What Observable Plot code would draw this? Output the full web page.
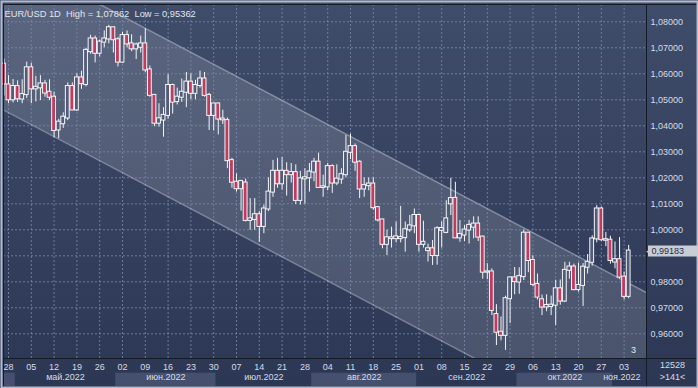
<!DOCTYPE html>
<html><head><meta charset="utf-8">
<script src="https://cdn.jsdelivr.net/npm/d3@7"></script>
<script src="https://cdn.jsdelivr.net/npm/@observablehq/plot@0.6"></script>
<style>body{margin:0;background:#2f3a57;}</style>
</head><body><div id="chart"></div>
<script>
// Trading days (2022, MM-DD)
const dates = ["04-27","04-28","04-29",
"05-02","05-03","05-04","05-05","05-06","05-09","05-10","05-11","05-12","05-13",
"05-16","05-17","05-18","05-19","05-20","05-23","05-24","05-25","05-26","05-27","05-30","05-31",
"06-01","06-02","06-03","06-06","06-07","06-08","06-09","06-10","06-13","06-14","06-15","06-16","06-17",
"06-20","06-21","06-22","06-23","06-24","06-27","06-28","06-29","06-30",
"07-01","07-04","07-05","07-06","07-07","07-08","07-11","07-12","07-13","07-14","07-15",
"07-18","07-19","07-20","07-21","07-22","07-25","07-26","07-27","07-28","07-29",
"08-01","08-02","08-03","08-04","08-05","08-08","08-09","08-10","08-11","08-12",
"08-15","08-16","08-17","08-18","08-19","08-22","08-23","08-24","08-25","08-26","08-29","08-30","08-31",
"09-01","09-02","09-05","09-06","09-07","09-08","09-09","09-12","09-13","09-14","09-15","09-16",
"09-19","09-20","09-21","09-22","09-23","09-26","09-27","09-28","09-29","09-30",
"10-03","10-04","10-05","10-06","10-07","10-10","10-11","10-12","10-13","10-14",
"10-17","10-18","10-19","10-20","10-21","10-24","10-25","10-26","10-27","10-28","10-31",
"11-01","11-02","11-03","11-04"];

const open = [1.0637,1.0557,1.0500,
1.0551,1.0503,1.0520,1.0623,1.0542,1.0546,1.0561,1.0529,1.0510,1.0384,
1.0408,1.0430,1.0551,1.0461,1.0584,1.0559,1.0685,1.0734,1.0679,1.0722,1.0734,1.0777,
1.0731,1.0645,1.0747,1.0715,1.0696,1.0702,1.0715,1.0615,1.0517,1.0410,1.0422,1.0440,1.0555,
1.0493,1.0510,1.0529,1.0568,1.0525,1.0555,1.0580,1.0517,1.0440,
1.0484,1.0426,1.0420,1.0266,1.0183,1.0158,1.0180,1.0036,1.0040,1.0058,1.0013,
1.0080,1.0145,1.0225,1.0177,1.0225,1.0212,1.0220,1.0113,1.0196,1.0200,
1.0222,1.0260,1.0163,1.0165,1.0243,1.0180,1.0195,1.0212,1.0298,1.0320,
1.0260,1.0157,1.0170,1.0176,1.0085,1.0038,0.9944,0.9969,0.9966,0.9966,0.9970,1.0000,1.0015,
1.0055,0.9944,0.9920,0.9927,0.9901,0.9998,0.9990,1.0100,1.0121,0.9969,0.9980,0.9999,
1.0010,1.0022,0.9972,0.9837,0.9838,0.9674,0.9606,0.9594,0.9735,0.9815,
0.9799,0.9820,0.9987,0.9882,0.9790,0.9731,0.9703,0.9705,0.9710,0.9773,
0.9726,0.9844,0.9857,0.9770,0.9786,0.9856,0.9875,0.9965,1.0080,0.9962,0.9960,
0.9876,0.9885,0.9818,0.9744];

const high = [1.0657,1.0593,1.0578,
1.0573,1.0577,1.0645,1.0641,1.0590,1.0593,1.0575,1.0577,1.0530,1.0425,
1.0450,1.0565,1.0565,1.0600,1.0610,1.0698,1.0748,1.0745,1.0730,1.0765,1.07862,1.0780,
1.0740,1.0760,1.0765,1.0750,1.0718,1.0745,1.0773,1.0630,1.0520,1.0485,1.0470,1.0597,1.0560,
1.0545,1.0580,1.0605,1.0600,1.0575,1.0610,1.0605,1.0525,1.0487,
1.0488,1.0460,1.0430,1.0275,1.0215,1.0190,1.0195,1.0120,1.0120,1.0070,1.0095,
1.0200,1.0267,1.0275,1.0278,1.0258,1.0255,1.0250,1.0225,1.0235,1.0255,
1.0275,1.0295,1.0210,1.0255,1.0250,1.0250,1.0235,1.0363,1.0368,1.0330,
1.0265,1.0200,1.0200,1.0200,1.0090,1.0040,0.9999,1.0010,1.0030,1.0090,1.0030,1.0055,1.0080,
1.0060,1.0033,0.9945,0.9959,1.0012,1.0030,1.0112,1.0198,1.0183,1.0036,1.0016,1.0036,
1.0050,1.0050,0.9975,0.9870,0.9850,0.9712,0.9665,0.9745,0.9818,0.9855,
0.9854,0.9999,0.9990,0.9900,0.9830,0.9749,0.9750,0.9745,0.9806,0.9807,
0.9875,0.9875,0.9868,0.9872,0.9870,0.9905,0.9977,1.0093,1.0088,0.9990,0.9975,
0.9953,0.9970,0.9838,0.9940];

const low = [1.0515,1.0485,1.0488,
1.0490,1.0485,1.0505,1.0485,1.0492,1.0497,1.0510,1.0497,1.0354,1.0350,
1.0390,1.0420,1.0460,1.0455,1.0540,1.0550,1.0675,1.0642,1.0665,1.0700,1.0715,1.0680,
1.0626,1.0640,1.0700,1.0685,1.0655,1.0680,1.0605,1.0510,1.0397,1.0395,1.0356,1.0425,1.0445,
1.0480,1.0490,1.0470,1.0500,1.0500,1.0545,1.0510,1.0382,1.0380,
1.0365,1.0405,1.0235,1.0160,1.0145,1.0072,1.0030,0.9998,0.9998,0.9952,0.9985,
1.0070,1.0125,1.0160,1.0153,1.0130,1.0180,1.0097,1.0095,1.0098,1.0145,
1.0185,1.0160,1.0125,1.0150,1.0140,1.0170,1.0175,1.0200,1.0270,1.0225,
1.0120,1.0125,1.0150,1.0075,1.0030,0.9927,0.9901,0.9930,0.9950,0.9950,0.9914,0.9990,0.9985,
0.9914,0.9930,0.9876,0.9863,0.9864,0.9930,0.9985,1.0055,0.9966,0.9952,0.9955,0.9945,
0.9965,0.9955,0.9810,0.9808,0.9670,0.9555,0.9573,0.95362,0.9640,0.9750,
0.9752,0.9805,0.9835,0.9780,0.9730,0.9670,0.9685,0.9670,0.9632,0.9710,
0.9720,0.9810,0.9765,0.9760,0.9705,0.9830,0.9860,0.9950,0.9955,0.9935,0.9868,
0.9850,0.9810,0.9730,0.9735];

const close = [1.0561,1.0500,1.0551,
1.0504,1.0520,1.0623,1.0542,1.0548,1.0561,1.0526,1.0510,1.0382,1.0414,
1.0433,1.0551,1.0461,1.0584,1.0562,1.0690,1.0734,1.0679,1.0722,1.0734,1.0777,1.0731,
1.0645,1.0747,1.0715,1.0696,1.0711,1.0715,1.0615,1.0517,1.0410,1.0427,1.0440,1.0555,1.0491,
1.0510,1.0529,1.0568,1.0525,1.0555,1.0580,1.0517,1.0440,1.0484,
1.0426,1.0423,1.0266,1.0183,1.0158,1.0186,1.0036,1.0042,1.0058,1.0013,1.0080,
1.0145,1.0225,1.0177,1.0225,1.0212,1.0220,1.0113,1.0196,1.0200,1.0222,
1.0260,1.0163,1.0165,1.0243,1.0180,1.0195,1.0212,1.0298,1.0320,1.0260,
1.0157,1.0170,1.0176,1.0085,1.0038,0.9944,0.9969,0.9966,0.9973,0.9970,1.0000,1.0015,1.0055,
0.9944,0.9952,0.9927,0.9901,1.0004,1.0005,1.0042,1.0120,0.9969,0.9982,0.9999,1.0017,
1.0022,0.9972,0.9837,0.9838,0.9690,0.9606,0.9594,0.9735,0.9815,0.9801,
0.9820,0.9987,0.9882,0.9790,0.9741,0.9703,0.9709,0.9710,0.9773,0.9726,
0.9844,0.9857,0.9770,0.9786,0.9856,0.9875,0.9965,1.0080,0.9962,0.9960,0.9882,
0.9885,0.9818,0.9744,0.99183];

// Trend channel anchors (trading-day position, price)
const channelPos = [-1, 142];
const channelUpper = [1.1071, 0.97485];
const channelLower = [1.0469, 0.9147];

// Axis labels
const yTicks = [0.96,0.97,0.98,0.99,1.00,1.01,1.02,1.03,1.04,1.05,1.06,1.07,1.08];
const monthKeys = ["04","05","06","07","08","09","10","11"];
const monthNames = ["апр.2022","май.2022","июн.2022","июл.2022","авг.2022","сен.2022","окт.2022","ноя.2022"];
const titleText = "EUR/USD 1D  High = 1,07862  Low = 0,95362";
const cornerTop = "12528", cornerBottom = ">141<", pageNum = "3";

const candles = dates.map((d, k) => ({k, date: d, open: open[k], high: high[k], low: low[k], close: close[k]}));
const channel = channelPos.map((k, j) => ({k, upper: channelUpper[j], lower: channelLower[j]}));
const weekTicks = candles.filter(d => new Date(`2022-${d.date}T12:00:00`).getDay() === 4).map(d => d.k);
const months = monthKeys.map((m, j) => {
  const ks = candles.filter(d => d.date.startsWith(m)).map(d => d.k);
  return {j, label: monthNames[j], x1: ks[0] - 0.5, x2: ks[ks.length - 1] + 0.5};
});
const lastPrice = close[close.length - 1];
// the tick label hidden behind the last-price box in the reference
const yLabelTicks = yTicks.filter(t => Math.abs(t - lastPrice) > 0.006);
const fmt = v => v.toFixed(5).replace(".", ",");
const txt = "#d7dce7";
const gridColor = "#7b8bad";
const dark = "#151b27";

const chart = Plot.plot({
  width: 698, height: 388,
  marginTop: 4, marginBottom: 30, marginLeft: 3, marginRight: 52,
  style: {
    background: "linear-gradient(to bottom, #3f4c6a 0%, #2c3754 100%)",
    color: txt,
    fontFamily: "'Liberation Sans', Arial, sans-serif",
    fontSize: "9px"
  },
  x: {domain: [-0.0965, 140.91], axis: "bottom", ticks: weekTicks,
      tickFormat: k => candles[Math.round(k)].date.slice(3), tickSize: 0, tickPadding: 5, label: null},
  y: {domain: [0.9505, 1.086654], axis: "right", ticks: yLabelTicks, tickFormat: fmt,
      tickSize: 0, tickPadding: 4, label: null},
  marks: [
    Plot.rect(months.filter(d => d.j % 2 === 0), {x1: "x1", x2: "x2", fill: "#45506e", insetTop: 368.7, insetBottom: -28}),
    Plot.areaY(channel, {x: "k", y1: "lower", y2: "upper", fill: "white", fillOpacity: 0.14, clip: true}),
    Plot.ruleY(yTicks, {stroke: gridColor, strokeOpacity: 0.8, strokeDasharray: "2,2"}),
    Plot.ruleX(weekTicks, {stroke: gridColor, strokeOpacity: 0.8, strokeDasharray: "2,2"}),
    Plot.line(channel, {x: "k", y: "upper", stroke: "#c3c9d6", strokeOpacity: 0.45, clip: true}),
    Plot.line(channel, {x: "k", y: "lower", stroke: "#c3c9d6", strokeOpacity: 0.45, clip: true}),
    Plot.ruleX(candles, {x: "k", y1: "low", y2: "high", stroke: "#f4f5f8", strokeWidth: 1}),
    Plot.rect(candles, {x1: d => d.k - 0.42, x2: d => d.k + 0.42, y1: "open", y2: "close",
      fill: d => d.close >= d.open ? "#525c78" : "#c23a5c", stroke: "#f4f5f8", strokeWidth: 1,
      insetTop: -0.5, insetBottom: -0.5}),
    Plot.frame({stroke: dark, insetRight: -60, insetBottom: -40}),
    Plot.frame({stroke: dark, insetBottom: -30}),
    Plot.frame({stroke: dark, insetRight: -52}),
    Plot.frame({stroke: "#b3bbcb", strokeWidth: 2, insetLeft: -2, insetTop: -3, insetRight: -51, insetBottom: -29}),
    Plot.text([titleText], {frameAnchor: "top-left", textAnchor: "start", dx: 1, dy: 6, fill: "#e2e6ee", fontSize: 9.3}),
    Plot.text(months.slice(1), {x: d => (d.x1 + d.x2) / 2, text: "label", frameAnchor: "bottom", dy: 21, fill: txt}),
    Plot.text([pageNum], {frameAnchor: "bottom-right", textAnchor: "middle", dx: -13, dy: -6, fill: "#e8ebf0"}),
    Plot.text([cornerTop], {frameAnchor: "bottom-right", textAnchor: "middle", dx: 26, dy: 9, fill: txt}),
    Plot.text([cornerBottom], {frameAnchor: "bottom-right", textAnchor: "middle", dx: 26, dy: 21, fill: txt}),
    Plot.ruleY([lastPrice], {y: d => d, stroke: "#c8ccd5", strokeWidth: 11, insetLeft: 645, insetRight: -52}),
    Plot.text([lastPrice], {y: d => d, text: () => "◀", frameAnchor: "right", textAnchor: "start", dx: -1, fill: "#c8ccd5", fontSize: 9}),
    Plot.text([lastPrice], {y: d => d, text: d => fmt(d), frameAnchor: "right", textAnchor: "start", dx: 5, fill: "#2a3042"})
  ]
});
document.getElementById("chart").append(chart);
</script>
</body></html>
